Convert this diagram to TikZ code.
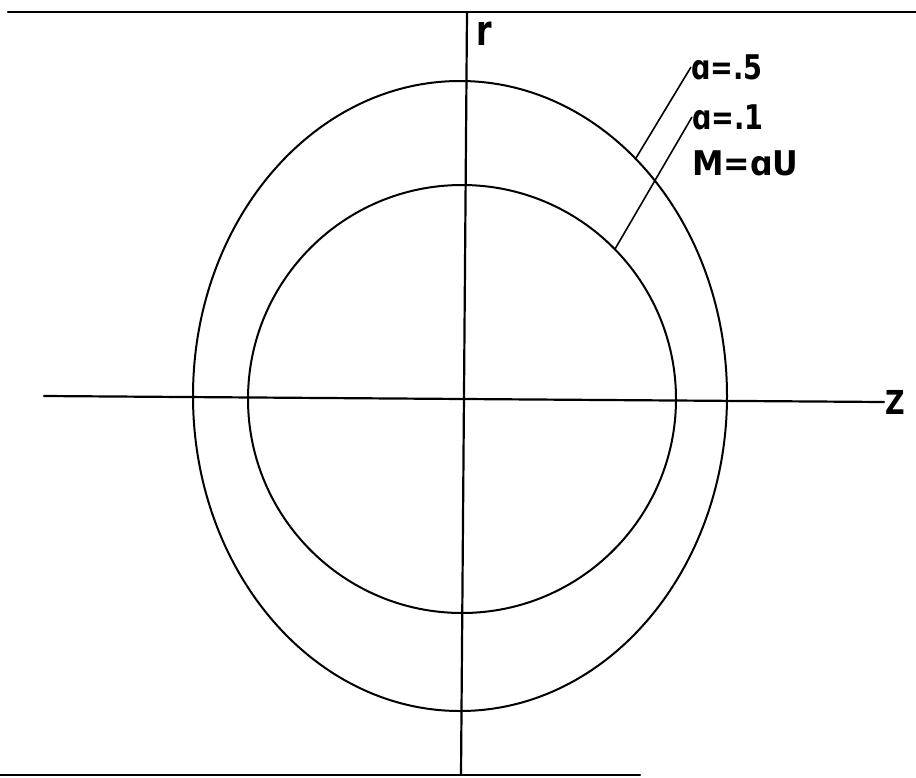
\documentclass[tikz,border=0pt]{standalone}
\usepackage{fontspec}
\usepackage{graphicx}
\setmainfont{DejaVu Sans}
\usetikzlibrary{shapes.geometric}
\begin{document}
\begin{tikzpicture}[x=1pt,y=-1pt,
  ln/.style={line width=2.2pt, line cap=round},
  curve/.style={draw, line width=2pt, inner sep=0pt, outer sep=0pt},
  lbl/.style={anchor=west, inner sep=0pt, font=\bfseries\fontsize{34}{34}\selectfont},
  axlbl/.style={inner sep=0pt, font=\bfseries\fontsize{30}{30}\selectfont}]
\useasboundingbox (0,0) rectangle (916,777);
% frame lines
\coordinate (tl) at (8,12);
\coordinate (tr) at (916,12);
\coordinate (bl) at (0,775);
\coordinate (br) at (640,775);
\draw[ln] (tl) -- (tr);
\draw[ln] (bl) -- (br);
% axes
\coordinate (rtop) at (467,12);
\coordinate (rbot) at (461,775);
\coordinate (zl) at (44,396);
\coordinate (zr) at (884,402);
\draw[ln] (rtop) -- (rbot);
\draw[ln] (zl) -- (zr);
\node[axlbl, anchor=north west, font=\bfseries\fontsize{42}{42}\selectfont] (rlab) at (476,22) {\scalebox{0.75}[1]{r}};
\node[axlbl, anchor=west] (zlab) at (885,402) {\scalebox{0.9}[1.1]{Z}};
% curves
\node[curve, circle, minimum size=428pt] (inner) at (462,399) {};
\node[curve, ellipse, minimum width=534pt, minimum height=630pt] (outer) at (460,396) {};
% labels
\node[lbl] (la5) at (691,67) {\scalebox{0.8}[1]{ɑ=.5}};
\node[lbl] (la1) at (692,117) {\scalebox{0.8}[1]{ɑ=.1}};
\node[lbl] (lM) at (692,163) {\scalebox{0.93}[1]{M=ɑU}};
\coordinate (e1) at (636,158);
\coordinate (e2) at (615,249);
\draw[line width=1.6pt] (la5.west) -- (e1);
\draw[line width=1.6pt] (la1.west) -- (e2);
\end{tikzpicture}
\end{document}
